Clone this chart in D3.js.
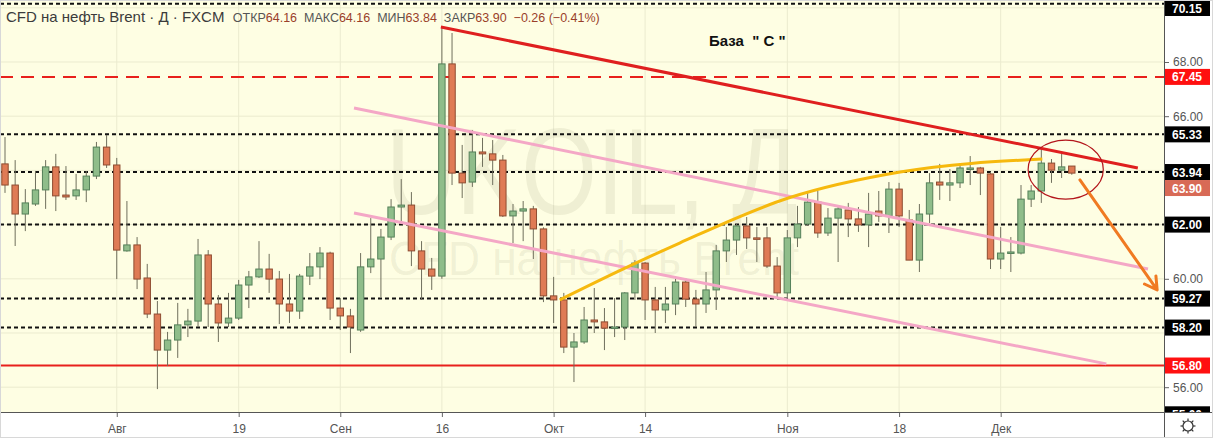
<!DOCTYPE html>
<html>
<head>
<meta charset="utf-8">
<script src="https://cdn.jsdelivr.net/npm/d3@7"></script>
<style>
  body { margin: 0; background: #fff; }
  svg { display: block; font-family: "Liberation Sans", Arial, sans-serif; }
</style>
</head>
<body>
<div id="chart"></div>
<script>
// data: Brent CFD daily, 2019
const dates = [
  "07-17","07-18","07-19","07-22","07-23","07-24","07-25","07-26","07-29","07-30","07-31",
  "08-01","08-02","08-05","08-06","08-07","08-08","08-09","08-12","08-13","08-14","08-15","08-16",
  "08-19","08-20","08-21","08-22","08-23","08-26","08-27","08-28","08-29","08-30",
  "09-02","09-03","09-04","09-05","09-06","09-09","09-10","09-11","09-12","09-13","09-16","09-17",
  "09-18","09-19","09-20","09-23","09-24","09-25","09-26","09-27","09-30",
  "10-01","10-02","10-03","10-04","10-07","10-08","10-09","10-10","10-11","10-14","10-15","10-16",
  "10-17","10-18","10-21","10-22","10-23","10-24","10-25","10-28","10-29","10-30","10-31",
  "11-01","11-04","11-05","11-06","11-07","11-08","11-11","11-12","11-13","11-14","11-15","11-18",
  "11-19","11-20","11-21","11-22","11-25","11-26","11-27","11-28","11-29",
  "12-02","12-03","12-04","12-05","12-06","12-09","12-10","12-11"
];
const open = [
  64.24,63.46,62.39,62.76,63.28,64.13,63.09,63.06,63.28,63.79,64.86,
  64.20,61.03,61.25,60.03,58.70,57.37,57.74,58.30,58.44,60.88,59.07,58.37,
  58.55,59.77,60.07,60.36,59.99,59.07,58.81,60.10,60.44,60.95,
  58.92,58.63,58.11,60.44,60.73,61.54,62.65,62.72,61.03,60.36,60.10,67.93,
  63.90,63.57,64.68,64.61,64.38,62.32,62.50,62.58,61.84,
  59.37,59.22,57.48,57.67,58.48,58.41,58.18,58.22,59.48,60.58,59.22,58.85,
  59.07,59.88,59.25,59.07,59.59,61.03,61.43,61.95,61.51,61.51,60.47,
  59.48,61.51,62.02,62.83,61.69,62.24,62.54,62.21,61.99,62.50,62.32,63.31,
  62.17,60.69,62.39,63.57,63.46,63.54,64.05,64.09,63.87,
  60.73,60.95,60.95,62.94,63.24,64.27,64.01,64.16
];
const high = [
  65.23,64.38,63.31,63.98,64.38,64.61,64.16,63.87,63.98,65.05,65.31,
  64.46,62.87,61.54,60.55,59.18,58.04,59.11,58.89,61.47,61.06,59.40,59.48,
  59.96,60.29,61.39,60.92,60.29,60.18,60.18,60.95,61.17,61.00,
  59.29,58.89,60.95,62.24,61.84,62.94,63.68,63.20,61.39,60.77,69.29,69.07,
  64.94,65.49,65.20,65.12,64.57,62.76,62.87,62.69,61.90,
  60.07,59.48,58.00,58.96,59.66,58.92,59.29,59.51,60.69,60.62,59.70,59.70,
  60.07,60.03,59.59,60.25,61.25,61.91,62.02,62.28,61.91,61.91,60.80,
  61.80,62.69,63.17,63.24,62.61,62.65,62.80,62.65,63.17,63.24,63.57,63.54,
  62.54,62.76,63.90,64.24,64.05,64.27,64.53,64.13,63.95,
  61.91,61.54,63.46,63.46,64.83,64.42,64.61,64.16
];
const low = [
  63.17,61.21,61.76,62.69,62.58,62.50,62.91,62.91,62.83,63.68,64.09,
  59.99,61.00,59.62,58.55,55.93,56.78,57.08,57.85,58.22,58.22,57.67,58.22,
  58.48,58.92,60.03,59.48,58.33,58.37,58.52,59.77,59.99,58.48,
  58.11,57.26,58.04,60.21,59.33,61.43,62.10,60.47,59.22,59.59,60.00,63.46,
  62.98,63.39,64.13,63.46,62.28,61.32,61.39,60.73,59.14,
  58.37,57.26,56.19,57.60,58.00,57.37,57.85,57.74,59.22,58.48,58.00,58.37,
  58.66,58.96,58.22,58.74,58.85,60.62,60.88,61.10,60.62,60.40,59.33,
  59.33,61.17,61.95,61.51,61.58,60.62,61.54,61.73,61.17,62.10,61.69,61.91,
  60.69,60.25,62.06,62.91,62.87,63.35,63.46,63.09,60.36,
  60.36,60.25,60.90,62.65,62.80,63.54,63.72,63.84
];
const close = [
  63.46,62.39,62.80,63.28,64.13,63.06,63.02,63.28,63.79,64.86,64.20,
  61.06,61.25,59.99,58.70,57.37,57.74,58.30,58.44,60.88,59.07,58.37,58.55,
  59.77,60.07,60.36,59.99,59.07,58.81,60.10,60.44,60.95,58.92,
  58.63,58.22,60.44,60.73,61.54,62.65,62.72,61.03,60.36,60.10,67.93,63.90,
  63.54,64.68,64.61,64.38,62.32,62.50,62.58,61.84,59.37,
  59.22,57.48,57.67,58.48,58.41,58.18,58.22,59.48,60.58,59.22,58.85,59.07,
  59.88,59.25,59.07,59.59,61.03,61.43,61.95,61.51,61.50,60.47,59.48,
  61.51,62.02,62.83,61.69,62.24,62.58,62.21,61.99,62.39,62.32,63.31,62.32,
  60.69,62.39,63.54,63.46,63.54,64.09,64.09,63.90,60.73,
  60.95,60.99,62.94,63.24,64.27,64.01,64.13,63.90
];

const tickDates = ["08-01","08-19","09-02","09-16","10-01","10-14","11-01","11-18","12-02"];
const tickLabels = ["Авг","19","Сен","16","Окт","14","Ноя","18","Дек"];
const priceTicks = [56, 58, 60, 62, 64, 66, 68, 70];

// horizontal levels drawn on the chart
const dottedLevels = [70.15, 65.33, 63.94, 62.00, 59.27, 58.20];
const dashedRedLevel = 67.45;
const solidRedLevel = 56.80;
const lastPrice = 63.90;
const blackLabels = [70.15, 65.33, 63.94, 62.00, 59.27, 58.20, 55.00];
const redLabels = [67.45, 56.80];

// drawn lines, [bar index, price]
const resistanceLine = [[42.9, 69.29], [111.5, 64.09]];
const channelUpper = [[34.35, 66.30], [112.5, 60.36]];
const channelLower = [[34.35, 62.43], [108.4, 56.86]];
const baseArc = [[54.6, 59.22], [60.5, 60.30], [66.4, 61.32], [77.1, 62.98], [88.1, 63.94], [102.1, 64.42]];
const forecastArrow = [[105.8, 63.65], [113.4, 59.59]];
const focusCircle = {i: 104.4, v: 64.03, di: 3.7, dv: 1.09};

//constants
const width = 1213, height = 438;
const plotW = 1164, plotH = 412;

const svg = d3.select("#chart").append("svg")
  .attr("width", width).attr("height", height);

const x = d3.scaleLinear().domain([0, dates.length - 1]).range([5, 5 + 105 * 10.16]);
const y = d3.scaleLinear().domain([56, 68]).range([387.2, 62]);

svg.append("defs").append("clipPath").attr("id", "plotclip")
  .append("rect").attr("width", plotW).attr("height", plotH);
svg.select("defs").append("clipPath").attr("id", "axisclip")
  .append("rect").attr("x", plotW).attr("width", width - plotW).attr("height", plotH);

svg.append("rect").attr("width", plotW).attr("height", plotH).attr("fill", "#fefee3");

const plot = svg.append("g").attr("clip-path", "url(#plotclip)");

// grid
plot.append("g").selectAll("line").data(tickDates).enter().append("line")
  .attr("x1", d => x(dates.indexOf(d))).attr("x2", d => x(dates.indexOf(d)))
  .attr("y1", 0).attr("y2", plotH)
  .attr("stroke", "#ebebcf").attr("stroke-width", 1);
plot.append("g").selectAll("line").data(priceTicks).enter().append("line")
  .attr("x1", 0).attr("x2", plotW)
  .attr("y1", d => y(d)).attr("y2", d => y(d))
  .attr("stroke", "#ebebcf").attr("stroke-width", 1);

// watermark
plot.append("text").attr("x", 592).attr("y", 214)
  .attr("text-anchor", "middle").attr("font-size", 122)
  .attr("textLength", 412).attr("lengthAdjust", "spacingAndGlyphs")
  .attr("fill", "#7a7a50").attr("fill-opacity", 0.11)
  .text("UKOIL, Д");
plot.append("text").attr("x", 594).attr("y", 275)
  .attr("text-anchor", "middle").attr("font-size", 48)
  .attr("textLength", 410).attr("lengthAdjust", "spacingAndGlyphs")
  .attr("fill", "#7a7a50").attr("fill-opacity", 0.11)
  .text("CFD на нефть Brent");

// levels
plot.selectAll(".dotted").data(dottedLevels).enter().append("line")
  .attr("x1", 0).attr("x2", plotW)
  .attr("y1", d => y(d)).attr("y2", d => y(d))
  .attr("stroke", "#111").attr("stroke-width", 2).attr("stroke-dasharray", "4,3");
plot.append("line")
  .attr("x1", 0).attr("x2", plotW)
  .attr("y1", y(dashedRedLevel)).attr("y2", y(dashedRedLevel))
  .attr("stroke", "#e8201c").attr("stroke-width", 2).attr("stroke-dasharray", "13,8");
plot.append("line")
  .attr("x1", 0).attr("x2", plotW)
  .attr("y1", y(solidRedLevel)).attr("y2", y(solidRedLevel))
  .attr("stroke", "#e8201c").attr("stroke-width", 2);

// candles
const bars = dates.map((d, i) => ({i: i, o: open[i], h: high[i], l: low[i], c: close[i]}));
const bw = 6.4;
const candle = plot.append("g").selectAll("g").data(bars).enter().append("g");
candle.append("line")
  .attr("x1", d => x(d.i)).attr("x2", d => x(d.i))
  .attr("y1", d => y(d.h)).attr("y2", d => y(d.l))
  .attr("stroke", "#6f6f5c").attr("stroke-width", 1);
candle.append("rect")
  .attr("x", d => x(d.i) - bw / 2).attr("width", bw)
  .attr("y", d => y(Math.max(d.o, d.c)))
  .attr("height", d => Math.max(1.5, Math.abs(y(d.o) - y(d.c))))
  .attr("fill", d => d.c >= d.o ? "#8fbd8a" : "#df7b55")
  .attr("stroke", d => d.c >= d.o ? "#55805a" : "#8e4c31")
  .attr("stroke-width", 1);

// drawn lines
const line = d3.line().x(d => x(d[0])).y(d => y(d[1]));
plot.append("path").attr("d", line(channelUpper))
  .attr("stroke", "#f4a7c6").attr("stroke-width", 3).attr("fill", "none");
plot.append("path").attr("d", line(channelLower))
  .attr("stroke", "#f4a7c6").attr("stroke-width", 3).attr("fill", "none");
plot.append("path").attr("d", line(resistanceLine))
  .attr("stroke", "#df1f1f").attr("stroke-width", 3).attr("fill", "none");
plot.append("path").attr("d", line.curve(d3.curveMonotoneX)(baseArc))
  .attr("stroke", "#f6b90e").attr("stroke-width", 3).attr("fill", "none");
line.curve(d3.curveLinear);

plot.append("ellipse")
  .attr("cx", x(focusCircle.i)).attr("cy", y(focusCircle.v))
  .attr("rx", x(focusCircle.i + focusCircle.di) - x(focusCircle.i))
  .attr("ry", y(focusCircle.v - focusCircle.dv) - y(focusCircle.v))
  .attr("fill", "none").attr("stroke", "#b3151b").attr("stroke-width", 1.2);

// forecast arrow
const [a0, a1] = forecastArrow.map(p => [x(p[0]), y(p[1])]);
const ang = Math.atan2(a1[1] - a0[1], a1[0] - a0[0]);
const head = 14;
const headPts = [ang - Math.PI / 6, ang + Math.PI / 6].map(t => [a1[0] - head * Math.cos(t), a1[1] - head * Math.sin(t)]);
plot.append("path")
  .attr("d", "M" + a0 + "L" + a1 + "M" + headPts[0] + "L" + a1 + "L" + headPts[1])
  .attr("stroke", "#f07a22").attr("stroke-width", 3).attr("fill", "none")
  .attr("stroke-linecap", "round").attr("stroke-linejoin", "round");

plot.append("text").attr("x", 709).attr("y", 46)
  .attr("font-size", 15).attr("font-weight", "bold").attr("fill", "#111")
  .style("white-space", "pre")
  .text("База  \" С \"");

// header legend
const hdr = svg.append("text").attr("x", 6).attr("y", 22).style("white-space", "pre");
hdr.append("tspan").attr("font-size", 15).attr("fill", "#3b3b3b").text("CFD на нефть Brent · Д · FXCM  ");
[["ОТКР", open[105]], ["МАКС", high[105]], ["МИН", low[105]], ["ЗАКР", close[105]]].forEach(p => {
  hdr.append("tspan").attr("font-size", 12.5).attr("fill", "#555").text(p[0]);
  hdr.append("tspan").attr("font-size", 12.5).attr("fill", "#9a3f2a").text(p[1].toFixed(2) + "  ");
});
hdr.append("tspan").attr("font-size", 12.5).attr("fill", "#9a3f2a").text("−0.26 (−0.41%)");

// axes
svg.append("rect").attr("x", plotW).attr("width", width - plotW).attr("height", height).attr("fill", "#fff");
svg.append("rect").attr("y", plotH).attr("width", width).attr("height", height - plotH).attr("fill", "#fff");

// price labels, pushed down when they would collide
const priceLabels = blackLabels.map(v => ({v: v, c: "#000"}))
  .concat(redLabels.map(v => ({v: v, c: "#ff1010"})))
  .concat([{v: lastPrice, c: "#d86a56"}]);
priceLabels.forEach(d => { d.cy = Math.max(8, y(d.v)); });
priceLabels.sort((a, b) => a.cy - b.cy || b.v - a.v);
priceLabels.forEach((d, i) => {
  if (i > 0 && d.cy - priceLabels[i - 1].cy < 16) d.cy = priceLabels[i - 1].cy + 16;
});

const yAxis = svg.append("g").attr("transform", "translate(" + plotW + ",0)")
  .call(d3.axisRight(y).tickValues(priceTicks).tickFormat(d3.format(".2f")).tickSize(5).tickPadding(4));
yAxis.select(".domain").remove();
yAxis.selectAll("line").attr("stroke", "#666");
yAxis.selectAll("text").attr("fill", "#555").attr("font-size", 12)
  .attr("font-family", "\"Liberation Sans\", Arial, sans-serif")
  .style("display", d => priceLabels.some(p => Math.abs(p.cy - y(d)) < 13) ? "none" : null);

const xAxis = svg.append("g").attr("transform", "translate(0," + plotH + ")")
  .call(d3.axisBottom(x).tickValues(tickDates.map(d => dates.indexOf(d)))
    .tickFormat((d, i) => tickLabels[i]).tickSize(5).tickPadding(7));
xAxis.select(".domain").remove();
xAxis.selectAll("line").attr("stroke", "#666");
xAxis.selectAll("text").attr("fill", "#555").attr("font-size", 12)
  .attr("font-family", "\"Liberation Sans\", Arial, sans-serif");

const labels = svg.append("g").attr("clip-path", "url(#axisclip)");
const pl = labels.selectAll("g").data(priceLabels).enter().append("g")
  .attr("transform", d => "translate(" + plotW + "," + d.cy + ")");
pl.append("rect").attr("x", 0).attr("y", -8).attr("width", 46).attr("height", 16).attr("fill", d => d.c);
pl.append("text").attr("x", 8).attr("y", 4.5).attr("font-size", 12).attr("font-weight", "bold")
  .attr("fill", "#fff").text(d => d.v.toFixed(2));

// frame
svg.append("line").attr("x1", plotW + 0.5).attr("x2", plotW + 0.5).attr("y1", 0).attr("y2", height)
  .attr("stroke", "#555");
svg.append("line").attr("x1", 0).attr("x2", width).attr("y1", plotH + 0.5).attr("y2", plotH + 0.5)
  .attr("stroke", "#555");
svg.append("rect").attr("x", 0.5).attr("y", 0.5).attr("width", width - 1).attr("height", height - 1)
  .attr("fill", "none").attr("stroke", "#d8d8d8");

// settings gear
const gear = svg.append("g").attr("transform", "translate(1188,426)")
  .attr("stroke", "#333").attr("fill", "none").attr("stroke-width", 1.2);
gear.append("circle").attr("r", 5);
gear.selectAll("line").data(d3.range(8)).enter().append("line")
  .attr("x1", d => 5 * Math.cos(d * Math.PI / 4)).attr("y1", d => 5 * Math.sin(d * Math.PI / 4))
  .attr("x2", d => 7.5 * Math.cos(d * Math.PI / 4)).attr("y2", d => 7.5 * Math.sin(d * Math.PI / 4));
</script>
</body>
</html>
